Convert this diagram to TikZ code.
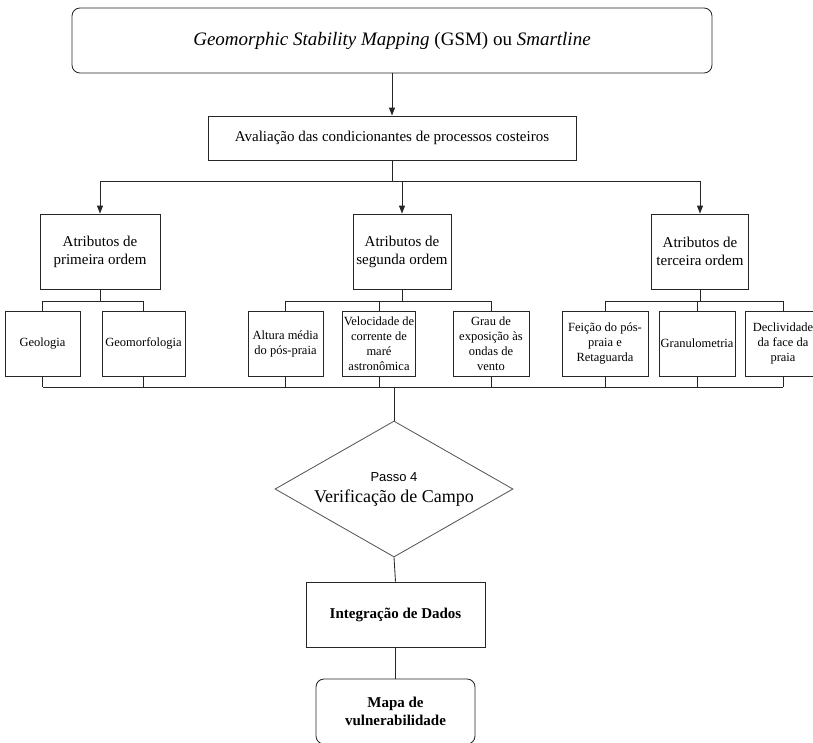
\documentclass[tikz,border=0pt]{standalone}
\usepackage{fontspec}
\setmainfont{Liberation Serif}
\setsansfont{Liberation Sans}
\usetikzlibrary{arrows.meta,shapes.geometric,calc}

\begin{document}
\begin{tikzpicture}[
  x=1pt, y=-1pt,
  line width=0.85pt, draw=black!85,
  title/.style={draw, rounded corners=8pt, minimum width=640pt, minimum height=65pt, align=center, font=\fontsize{19}{22}\selectfont},
  main/.style={draw, minimum width=368pt, minimum height=44pt, align=center, font=\fontsize{15}{18}\selectfont},
  attr/.style={draw, minimum height=75pt, inner sep=2pt, align=center, font=\fontsize{15}{18}\selectfont},
  item/.style={draw, minimum height=65pt, inner sep=1pt, align=center, font=\fontsize{12.5}{15}\selectfont},
  check/.style={draw, draw=black!65, diamond, aspect=1.75, minimum width=238pt, minimum height=136pt, inner sep=0pt, align=center, font=\fontsize{18}{21}\selectfont},
  result/.style={draw, minimum height=65pt, align=center, font=\bfseries\fontsize{15}{17.5}\selectfont},
  arrow/.style={-{Triangle[length=8pt, width=6pt]}},
  link/.style={-}
]
\useasboundingbox (0,0) rectangle (813,742);

\node[title] (gsm) at (392, 40.5) {\textit{Geomorphic Stability Mapping} (GSM) ou \textit{Smartline}};
\node[main] (aval) at (392, 138) {Avaliação das condicionantes de processos costeiros};

\node[attr, minimum width=120pt] (attr1) at (100, 251.5) {Atributos de\\primeira ordem};
\node[attr, minimum width=98pt] (attr2) at (402, 251.5) {Atributos de\\segunda ordem};
\node[attr, minimum width=97pt] (attr3) at (700, 251.5) {Atributos de\\terceira ordem};

\node[item, minimum width=75pt] (geol) at (42.5, 343.5) {Geologia};
\node[item, minimum width=83pt] (geom) at (143.5, 343.5) {Geomorfologia};
\node[item, minimum width=75pt] (alt) at (285.5, 343.5) {Altura média\\do pós-praia};
\node[item, minimum width=68pt] (vel) at (379, 343.5) {Velocidade de\\corrente de\\maré\\astronômica};
\node[item, minimum width=76pt] (grau) at (491, 343.5) {Grau de\\exposição às\\ondas de\\vento};
\node[item, minimum width=86pt] (feic) at (605, 343.5) {Feição do pós-\\praia e\\Retaguarda};
\node[item, minimum width=76pt] (gran) at (697, 343.5) {Granulometria};
\node[item, minimum width=76pt] (decl) at (783, 343.5) {Declividade\\da face da\\praia};

\node[check] (passo) at (394, 489) {{\sffamily\fontsize{13}{15}\selectfont Passo 4}\\Verificação de Campo};
\node[result, minimum width=179pt] (integ) at (395.5, 614.5) {Integração de Dados};
\node[result, rounded corners=8pt, minimum width=159pt] (mapa) at (395.5, 711.5) {Mapa de\\vulnerabilidade};

% top
\draw[arrow] (gsm.south) -- (aval.north);
\draw (aval.south) -- ++(0,21) coordinate (bus0);
\draw (bus0 -| attr1) -- (bus0 -| attr3);
\foreach \n in {attr1,attr2,attr3}
  \draw[arrow] (bus0 -| \n) -- (\n.north);

% attributes to items
\draw (attr1.south) -- ++(0,12) coordinate (bus1);
\draw (bus1 -| geol) -- (bus1 -| geom);
\foreach \n in {geol,geom}
  \draw (bus1 -| \n) -- (\n.north);

\draw (attr2.south) -- ++(0,12) coordinate (bus2);
\draw (bus2 -| alt) -- (bus2 -| grau);
\foreach \n in {alt,vel,grau}
  \draw (bus2 -| \n) -- (\n.north);

\draw (attr3.south) -- ++(0,12) coordinate (bus3);
\draw (bus3 -| feic) -- (bus3 -| decl);
\foreach \n in {feic,gran,decl}
  \draw (bus3 -| \n) -- (\n.north);

% items to field check
\draw (geol.south) -- ++(0,11) coordinate (bus4);
\draw (bus4) -- (bus4 -| decl);
\foreach \n in {geom,alt,vel,grau,feic,gran,decl}
  \draw (\n.south) -- (bus4 -| \n);
\draw (bus4 -| passo) -- (passo.north);

% bottom
\draw (passo.south) -- (integ.north);
\draw (integ.south) -- (mapa.north);
\end{tikzpicture}
\end{document}
